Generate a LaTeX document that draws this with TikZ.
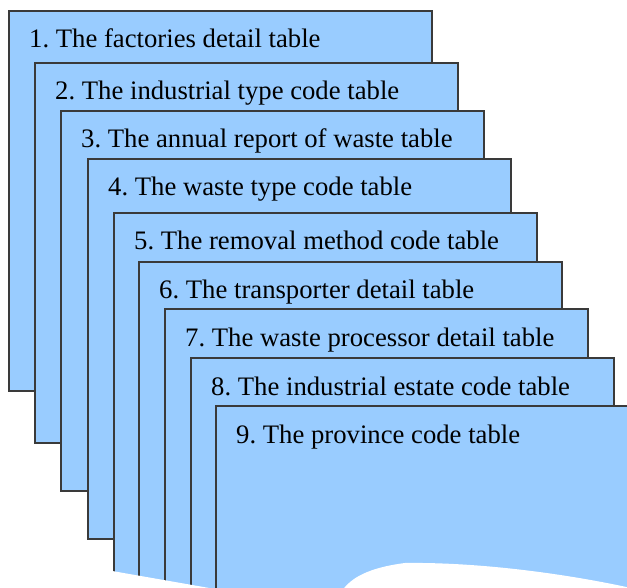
\documentclass[tikz,border=0pt]{standalone}
\usepackage{fontspec}
\setmainfont{Liberation Serif}
\frenchspacing
\definecolor{boxfill}{HTML}{99CCFF}
\definecolor{boxline}{HTML}{3A3A3A}
\begin{document}
\begin{tikzpicture}[x=1pt,y=-1pt,
  tablebox/.style={draw=boxline,line width=2pt,fill=boxfill,anchor=north west,
    minimum width=423pt,minimum height=380pt,inner sep=0pt,outer sep=0pt},
  tabletext/.style={anchor=base west,inner sep=0pt,font=\fontsize{26.7}{30}\selectfont\frenchspacing}]
\useasboundingbox (0,0) rectangle (627,588);
\clip (0,0) rectangle (627,588);
\foreach \i/\x/\y/\t in {
  1/9/11/{1. The factories detail table},
  2/35/63/{2. The industrial type code table},
  3/61/111/{3. The annual report of waste table},
  4/88/159/{4. The waste type code table},
  5/114/213/{5. The removal method code table},
  6/139/262/{6. The transporter detail table},
  7/165/309/{7. The waste processor detail table},
  8/191/358/{8. The industrial estate code table},
  9/216/406/{9. The province code table}}{
  \node[tablebox] (b\i) at (\x,\y) {};
  \node[tabletext] (t\i) at (\x+20,\y+37) {\t};
}
\fill[white] (95,568) -- (335,610) .. controls (338,590) and (350,570) .. (405,563)
  .. controls (480,562) and (570,574) .. (640,590) -- (640,600) -- (0,600) -- (0,568) -- cycle;
\end{tikzpicture}
\end{document}
